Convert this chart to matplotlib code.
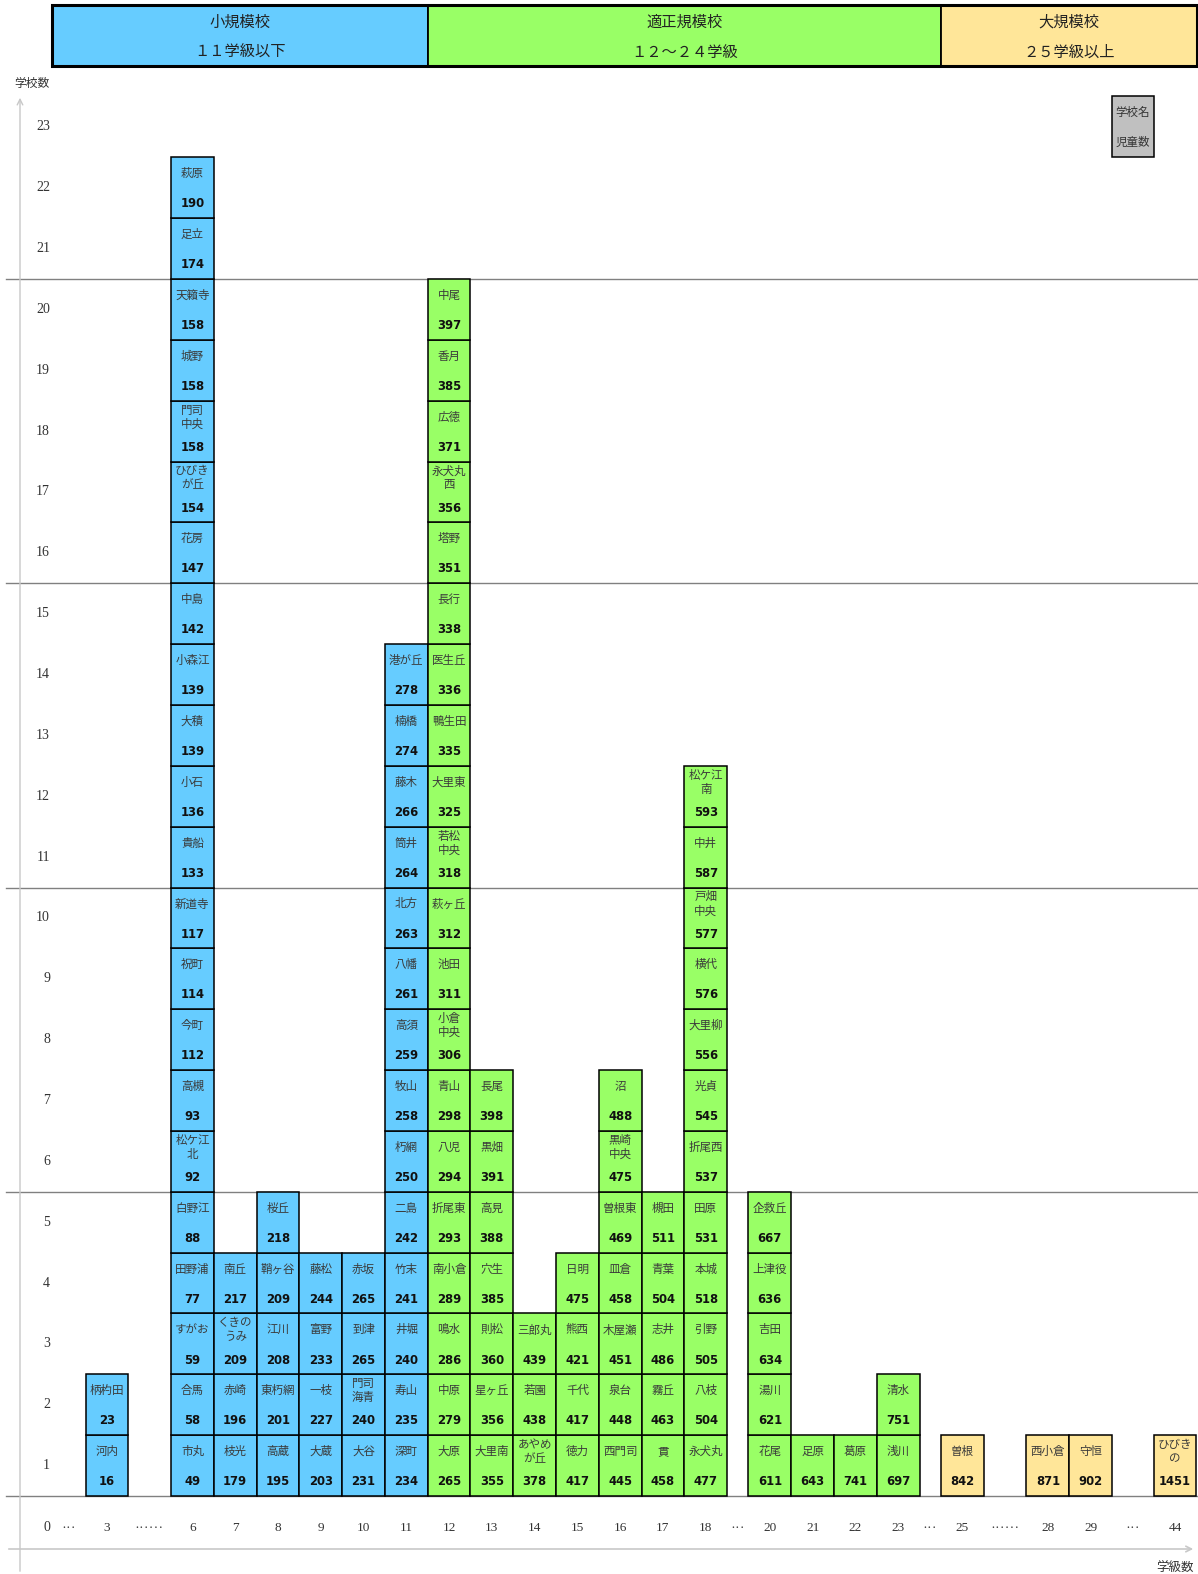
import matplotlib
matplotlib.use("Agg")
import matplotlib.pyplot as plt
from matplotlib.patches import Rectangle

plt.rcParams['font.family'] = ['Noto Sans CJK JP', 'DejaVu Sans']

# ---------------- data ----------------
class_counts = [3, 6, 7, 8, 9, 10, 11, 12, 13, 14, 15, 16, 17, 18, 20, 21, 22, 23, 25, 28, 29, 44]
x_tick_labels = ["3", "6", "7", "8", "9", "10", "11", "12", "13", "14", "15", "16", "17", "18",
                 "20", "21", "22", "23", "25", "28", "29", "44"]

# schools stacked bottom -> top for each class count
school_names = [
    ["河内", "柄杓田"],
    ["市丸", "合馬", "すがお", "田野浦", "白野江", "松ケ江\n北", "高槻", "今町", "祝町", "新道寺",
     "貴船", "小石", "大積", "小森江", "中島", "花房", "ひびき\nが丘", "門司\n中央", "城野", "天籟寺",
     "足立", "萩原"],
    ["枝光", "赤崎", "くきの\nうみ", "南丘"],
    ["高蔵", "東朽網", "江川", "鞘ヶ谷", "桜丘"],
    ["大蔵", "一枝", "富野", "藤松"],
    ["大谷", "門司\n海青", "到津", "赤坂"],
    ["深町", "寿山", "井堀", "竹末", "二島", "朽網", "牧山", "高須", "八幡", "北方", "筒井", "藤木",
     "楠橋", "港が丘"],
    ["大原", "中原", "鳴水", "南小倉", "折尾東", "八児", "青山", "小倉\n中央", "池田", "萩ヶ丘",
     "若松\n中央", "大里東", "鴨生田", "医生丘", "長行", "塔野", "永犬丸\n西", "広徳", "香月", "中尾"],
    ["大里南", "星ヶ丘", "則松", "穴生", "高見", "黒畑", "長尾"],
    ["あやめ\nが丘", "若園", "三郎丸"],
    ["徳力", "千代", "熊西", "日明"],
    ["西門司", "泉台", "木屋瀬", "皿倉", "曽根東", "黒崎\n中央", "沼"],
    ["貫", "霧丘", "志井", "青葉", "槻田"],
    ["永犬丸", "八枝", "引野", "本城", "田原", "折尾西", "光貞", "大里柳", "横代", "戸畑\n中央",
     "中井", "松ケ江\n南"],
    ["花尾", "湯川", "吉田", "上津役", "企救丘"],
    ["足原"],
    ["葛原"],
    ["浅川", "清水"],
    ["曽根"],
    ["西小倉"],
    ["守恒"],
    ["ひびき\nの"],
]
students = [
    [16, 23],
    [49, 58, 59, 77, 88, 92, 93, 112, 114, 117, 133, 136, 139, 139, 142, 147, 154, 158, 158, 158, 174, 190],
    [179, 196, 209, 217],
    [195, 201, 208, 209, 218],
    [203, 227, 233, 244],
    [231, 240, 265, 265],
    [234, 235, 240, 241, 242, 250, 258, 259, 261, 263, 264, 266, 274, 278],
    [265, 279, 286, 289, 293, 294, 298, 306, 311, 312, 318, 325, 335, 336, 338, 351, 356, 371, 385, 397],
    [355, 356, 360, 385, 388, 391, 398],
    [378, 438, 439],
    [417, 417, 421, 475],
    [445, 448, 451, 458, 469, 475, 488],
    [458, 463, 486, 504, 511],
    [477, 504, 505, 518, 531, 537, 545, 556, 576, 577, 587, 593],
    [611, 621, 634, 636, 667],
    [643],
    [741],
    [697, 751],
    [842],
    [871],
    [902],
    [1451],
]
y_tick_values = list(range(0, 24))

group_titles = ["小規模校", "適正規模校", "大規模校"]
group_ranges = ["１１学級以下", "１２～２４学級", "２５学級以上"]
legend_labels = ["学校名", "児童数"]
y_axis_title = "学校数"
x_axis_title = "学級数"

# ---------------- layout ----------------
W, H = 1198, 1574
SW = 42.77    # px per column slot
RH = 60.85    # px per row
Y0 = 1496     # px (from top) of count 0
# left edge (in slot units) of each class column
slot_left = [2, 4, 5, 6, 7, 8, 9, 10, 11, 12, 13, 14, 15, 16, 17.5, 18.5, 19.5, 20.5, 22, 24, 25, 26.97]
dots = [(1.61, "･･･"), (3.48, "･･････"), (17.25, "･･･"), (21.74, "･･･"), (23.5, "･･････"), (26.48, "･･･")]

BLUE, GREEN, YELLOW, GRAY = "#66CCFF", "#99FF66", "#FFE699", "#C0C0C0"


def color_for(c):
    if c <= 11:
        return BLUE
    if c <= 24:
        return GREEN
    return YELLOW


def px_x(p):
    return p / SW


def px_y(p):
    return (Y0 - p) / RH


fig = plt.figure(figsize=(W / 100, H / 100), dpi=100)
ax = fig.add_axes([0, 0, 1, 1])
ax.set_xlim(0, W / SW)
ax.set_ylim(px_y(H), px_y(0))
ax.axis("off")

# horizontal grid lines
for g in [0, 5, 10, 15, 20]:
    ax.plot([px_x(6), px_x(1198)], [g, g], color="#808080", lw=1.0, zorder=1)

# axes arrows
ax.annotate("", xy=(px_x(20), px_y(95)), xytext=(px_x(20), px_y(H)),
            arrowprops=dict(arrowstyle="->", color="#C8C8C8", lw=1.0), zorder=1)
ax.annotate("", xy=(px_x(1196), px_y(1549)), xytext=(px_x(6), px_y(1549)),
            arrowprops=dict(arrowstyle="->", color="#C8C8C8", lw=1.2), zorder=1)
ax.text(px_x(32), px_y(83), y_axis_title, ha="center", va="center", fontsize=8.5, color="#333333")
ax.text(px_x(1175), px_y(1568), x_axis_title, ha="center", va="center", fontsize=9, color="#333333")

# y tick labels
for v in y_tick_values:
    yy = v - 0.5 if v > 0 else px_y(1527.7)
    xx = px_x(46.7) if v < 10 else px_x(43)
    ax.text(xx, yy, str(v), ha="center", va="center", fontsize=10,
            family=["Liberation Serif"], color="#333333")

# x tick labels
xl_y = px_y(1527.7)
for c, lab, left in zip(class_counts, x_tick_labels, slot_left):
    ax.text(left + 0.5, xl_y, lab, ha="center", va="center", fontsize=9.5,
            family=["Liberation Serif"], color="#333333")
for xd, s in dots:
    ax.text(xd, xl_y, s, ha="center", va="center", fontsize=7, color="#333333")

# stacked school boxes
for c, names, kids, left in zip(class_counts, school_names, students, slot_left):
    col = color_for(c)
    for i, (nm, k) in enumerate(zip(names, kids)):
        ax.add_patch(Rectangle((left, i), 1, 1, facecolor=col, edgecolor="black", lw=1.1, zorder=2))
        ax.text(left + 0.5, i + 1 - 0.27, nm, ha="center", va="center", fontsize=8.3,
                linespacing=1.1, color="#3a3a3a", zorder=3)
        ax.text(left + 0.5, i + 0.235, str(k), ha="center", va="center", fontsize=8.4,
                fontweight="bold", family=["DejaVu Sans"], color="#111111", zorder=3)

# header boxes
hdr_x = [px_x(52.3), 10, 22, px_x(1196.7)]
hdr_cols = [BLUE, GREEN, YELLOW]
hy0, hy1 = px_y(66), px_y(5)
for j in range(3):
    ax.add_patch(Rectangle((hdr_x[j], hy0), hdr_x[j + 1] - hdr_x[j], hy1 - hy0,
                           facecolor=hdr_cols[j], edgecolor="black", lw=1.3, zorder=2))
    xm = (hdr_x[j] + hdr_x[j + 1]) / 2
    ax.text(xm, px_y(22.5), group_titles[j], ha="center", va="center", fontsize=11, color="#222222", zorder=3)
    ax.text(xm, px_y(52.7), group_ranges[j], ha="center", va="center", fontsize=11, color="#222222", zorder=3)
ax.add_patch(Rectangle((hdr_x[0], hy0), hdr_x[3] - hdr_x[0], hy1 - hy0,
                       facecolor="none", edgecolor="black", lw=2.2, zorder=4))

# legend box
ax.add_patch(Rectangle((26, 22), 0.97, 1, facecolor=GRAY, edgecolor="black", lw=1.1, zorder=2))
ax.text(26.485, 23 - 0.27, legend_labels[0], ha="center", va="center", fontsize=8.3, color="#333333", zorder=3)
ax.text(26.485, 22 + 0.25, legend_labels[1], ha="center", va="center", fontsize=8.3, color="#333333", zorder=3)

fig.savefig("out.png", dpi=100, facecolor="white")
